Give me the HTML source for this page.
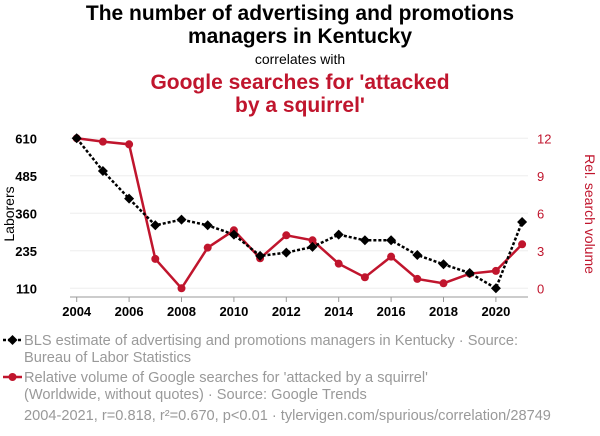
<!DOCTYPE html>
<html><head><meta charset="utf-8"><style>
body{margin:0;background:#fff;width:600px;height:436px;overflow:hidden;font-family:"Liberation Sans",sans-serif}
.t{position:absolute;left:0;width:600px;text-align:center}
</style></head><body>
<div class="t" style="top:2px;font-size:21px;font-weight:bold;line-height:23px;color:#000">The number of advertising and promotions<br>managers in Kentucky</div>
<div class="t" style="top:51px;font-size:14px;color:#000">correlates with</div>
<div class="t" style="top:71px;font-size:21px;font-weight:bold;line-height:23px;color:#c0152d">Google searches for 'attacked<br>by a squirrel'</div>
<svg id="c" width="600" height="436" style="position:absolute;left:0;top:0"></svg>
<script>
const years=[2004,2005,2006,2007,2008,2009,2010,2011,2012,2013,2014,2015,2016,2017,2018,2019,2020,2021];
const laborers=[610,501,409,320,339,320,289,218,229,248,289,270,270,221,190,161,110,331];
const searches=[12,11.73,11.52,2.35,0,3.25,4.64,2.4,4.24,3.84,1.97,0.88,2.53,0.75,0.4,1.17,1.39,3.52];
const leftTicks=[110,235,360,485,610];
const rightTicks=[0,3,6,9,12];
const xTicks=[2004,2006,2008,2010,2012,2014,2016,2018,2020];
const svg=document.getElementById('c');const NS='http://www.w3.org/2000/svg';
const x=v=>76.7+(v-2004)*26.2;
const yL=v=>288.3-(v-110)/500*150;
const yR=v=>288.3-v/12*150;
function el(t,a,name,p){const e=document.createElementNS(NS,t);for(const k in a)e.setAttribute(k,a[k]);


(p||svg).appendChild(e);return e;}
leftTicks.forEach(v=>{el('line',{x1:70,x2:528,y1:yL(v),y2:yL(v),stroke:'#eee'},'grid-line');
const t=el('text',{x:37,y:yL(v)+5,'font-size':13,'font-weight':'bold',fill:'#000','text-anchor':'end'},'left-tick-label');t.textContent=v;});
rightTicks.forEach(v=>{const t=el('text',{x:537,y:yR(v)+5,'font-size':13,fill:'#c0152d'},'right-tick-label');t.textContent=v;});
el('line',{x1:70,x2:528,y1:297,y2:297,stroke:'#999'},'x-axis');
xTicks.forEach(v=>{el('line',{x1:x(v),x2:x(v),y1:297,y2:302,stroke:'#999'},'x-tick');
const t=el('text',{x:x(v),y:316,'font-size':13,'font-weight':'bold','text-anchor':'middle',fill:'#000'},'x-tick-label');t.textContent=v;});
let t=el('text',{x:0,y:0,'font-size':14,transform:'translate(14,214) rotate(-90)','text-anchor':'middle'},'y-axis-title-left');t.textContent='Laborers';
t=el('text',{x:0,y:0,'font-size':14,fill:'#c0152d',transform:'translate(585,214) rotate(90)','text-anchor':'middle'},'y-axis-title-right');t.textContent='Rel. search volume';
el('polyline',{points:searches.map((v,i)=>x(years[i])+','+yR(v)).join(' '),fill:'none',stroke:'#c0152d','stroke-width':2.5},'search-line');
searches.forEach((v,i)=>el('circle',{cx:x(years[i]),cy:yR(v),r:4,fill:'#c0152d'},'search-point'));
el('polyline',{points:laborers.map((v,i)=>x(years[i])+','+yL(v)).join(' '),fill:'none',stroke:'#000','stroke-width':2.5,'stroke-dasharray':'3,2'},'laborers-line');
laborers.forEach((v,i)=>{const cx=x(years[i]),cy=yL(v);el('polygon',{points:`${cx},${cy-5} ${cx+5},${cy} ${cx},${cy+5} ${cx-5},${cy}`,fill:'#000'},'laborers-point');});
el('line',{x1:3,x2:22,y1:340,y2:340,stroke:'#000','stroke-width':2.5,'stroke-dasharray':'3,2'},'legend-line-laborers');
el('polygon',{points:'12.5,335 17.5,340 12.5,345 7.5,340',fill:'#000'},'legend-marker-laborers');
el('line',{x1:3,x2:22,y1:377,y2:377,stroke:'#c0152d','stroke-width':2.5},'legend-line-search');
el('circle',{cx:12.5,cy:377,r:4,fill:'#c0152d'},'legend-marker-search');
const leg=[[24,345,'BLS estimate of advertising and promotions managers in Kentucky · Source:'],[24,362,'Bureau of Labor Statistics'],[24,382,"Relative volume of Google searches for 'attacked by a squirrel'"],[24,399,'(Worldwide, without quotes) · Source: Google Trends'],[24,420,'2004-2021, r=0.818, r²=0.670, p<0.01 · tylervigen.com/spurious/correlation/28749']];
leg.forEach(l=>{const t=el('text',{x:l[0],y:l[1],'font-size':14.6,fill:'#999'},'legend-text');t.textContent=l[2];});
</script>
</body></html>
